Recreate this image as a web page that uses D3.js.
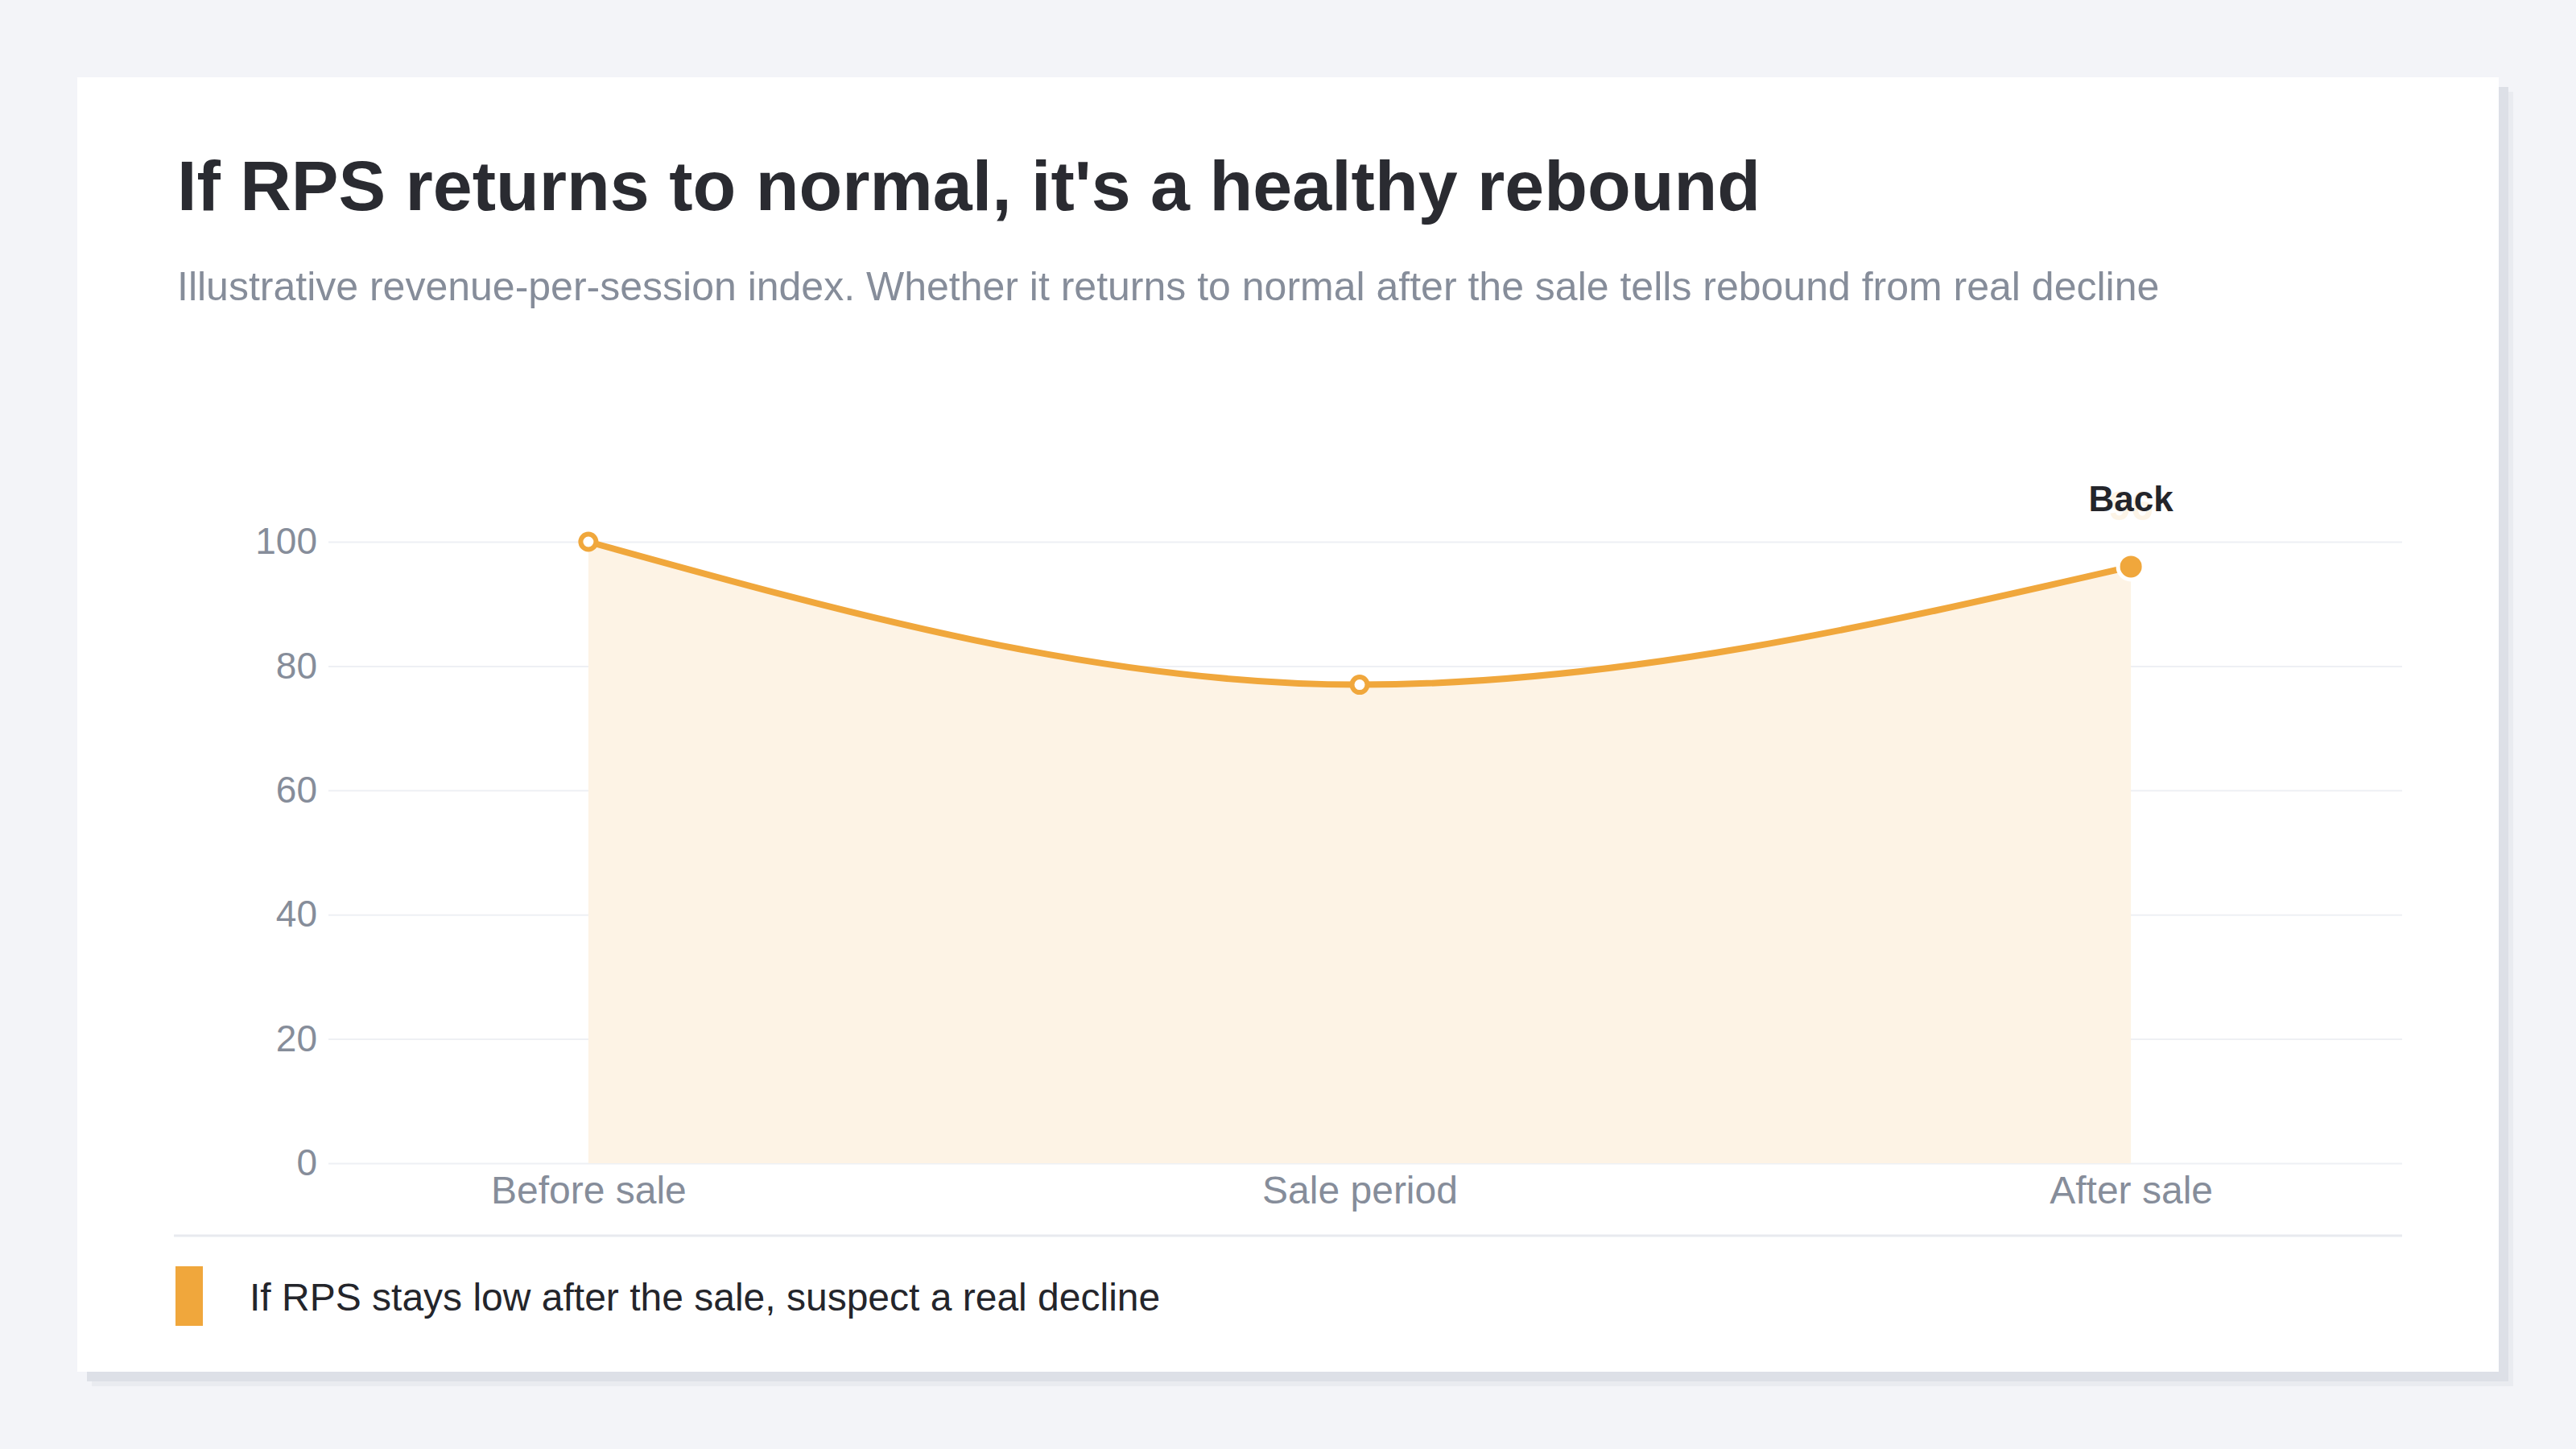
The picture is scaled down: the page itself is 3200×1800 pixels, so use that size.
<!DOCTYPE html>
<html>
<head>
<meta charset="utf-8">
<script src="https://cdn.jsdelivr.net/npm/d3@7"></script>
<style>
  body { margin: 0; background: #f3f4f8; }
  svg { display: block; }
  text { font-family: "Liberation Sans", Arial, Helvetica, sans-serif; }
</style>
</head>
<body>
<svg width="3200" height="1800"></svg>
<script>
// data
var categories = ["Before sale", "Sale period", "After sale"];
var rpsIndex = [100, 77, 96];
var yTicks = [0, 20, 40, 60, 80, 100];
var endLabel = "Back";

var title = "If RPS returns to normal, it's a healthy rebound";
var subtitle = "Illustrative revenue-per-session index. Whether it returns to normal after the sale tells rebound from real decline";
var note = "If RPS stays low after the sale, suspect a real decline";

function main() {
    var svg = d3.select("svg"),
        card = {x: 96, y: 96, w: 3008, h: 1608},
        margin = {top: 673, right: 216, bottom: 355, left: 408},
        width = 2984 - margin.left,
        height = 1445 - margin.top;

    var orange = "#f0a73c";

    // card + shadow
    svg.append("rect")
        .attr("x", card.x + 18).attr("y", card.y + 18)
        .attr("width", card.w).attr("height", card.h)
        .attr("fill", "#e9ebf0");
    svg.append("rect")
        .attr("x", card.x + 12).attr("y", card.y + 12)
        .attr("width", card.w).attr("height", card.h)
        .attr("fill", "#dde0e7");
    svg.append("rect")
        .attr("x", card.x).attr("y", card.y)
        .attr("width", card.w).attr("height", card.h)
        .attr("fill", "#ffffff");

    svg.append("text")
        .attr("x", 220).attr("y", 261)
        .attr("font-size", 88).attr("font-weight", 700)
        .attr("fill", "#2a2b31")
        .text(title);

    svg.append("text")
        .attr("x", 220).attr("y", 373)
        .attr("font-size", 50)
        .attr("fill", "#868d9a")
        .text(subtitle);

    var g = svg.append("g")
        .attr("transform", `translate(${margin.left},${margin.top})`);

    var x = d3.scalePoint()
        .domain(categories)
        .range([0, width - 14])
        .padding(0.337);

    var y = d3.scaleLinear()
        .domain([0, 100])
        .range([height, 0]);

    // gridlines + y labels
    var yAxis = g.append("g")
        .call(d3.axisLeft(y).tickValues(yTicks).tickSize(-width).tickPadding(14));
    yAxis.select(".domain").remove();
    yAxis.selectAll("line").attr("stroke", "#eef0f4").attr("stroke-width", 2);
    yAxis.selectAll("text")
        .attr("font-size", 46).attr("fill", "#868d9a")
        .attr("font-family", "Liberation Sans, Arial, sans-serif");

    // area + line
    var area = d3.area()
        .x((d, i) => x(categories[i]))
        .y0(y(0))
        .y1(d => y(d))
        .curve(d3.curveMonotoneX);
    var line = d3.line()
        .x((d, i) => x(categories[i]))
        .y(d => y(d))
        .curve(d3.curveMonotoneX);

    g.append("path")
        .datum(rpsIndex)
        .attr("d", area)
        .attr("fill", "#fdf3e5");

    g.append("path")
        .datum(rpsIndex)
        .attr("d", line)
        .attr("fill", "none")
        .attr("stroke", orange)
        .attr("stroke-width", 8);

    // points
    var last = rpsIndex.length - 1;
    g.selectAll("circle.pt")
        .data(rpsIndex.slice(0, last))
        .join("circle")
        .attr("class", "pt")
        .attr("cx", (d, i) => x(categories[i]))
        .attr("cy", d => y(d))
        .attr("r", 9.5)
        .attr("fill", "#fff")
        .attr("stroke", orange)
        .attr("stroke-width", 6);

    g.append("circle")
        .attr("cx", x(categories[last]))
        .attr("cy", y(rpsIndex[last]))
        .attr("r", 16)
        .attr("fill", orange)
        .attr("stroke", "#fff")
        .attr("stroke-width", 5);

    // faint value behind the end label
    g.append("text")
        .attr("x", x(categories[last])).attr("y", y(rpsIndex[last]) - 58)
        .attr("text-anchor", "middle")
        .attr("font-size", 50).attr("font-weight", 700)
        .attr("fill", orange).attr("opacity", 0.12)
        .text(rpsIndex[last]);

    g.append("text")
        .attr("x", x(categories[last])).attr("y", y(rpsIndex[last]) - 69)
        .attr("text-anchor", "middle")
        .attr("font-size", 44).attr("font-weight", 700)
        .attr("fill", "#24252b")
        .text(endLabel);

    // x labels
    var xAxis = g.append("g")
        .attr("transform", `translate(0,${height})`)
        .call(d3.axisBottom(x).tickSize(0).tickPadding(16));
    xAxis.select(".domain").remove();
    xAxis.selectAll("text")
        .attr("font-size", 48).attr("fill", "#868d9a")
        .attr("font-family", "Liberation Sans, Arial, sans-serif");

    // separator + legend note
    svg.append("line")
        .attr("x1", 216).attr("x2", 2984)
        .attr("y1", 1535).attr("y2", 1535)
        .attr("stroke", "#e8eaef").attr("stroke-width", 3);

    svg.append("rect")
        .attr("x", 218).attr("y", 1573)
        .attr("width", 34).attr("height", 74)
        .attr("fill", orange);

    svg.append("text")
        .attr("x", 310).attr("y", 1628)
        .attr("font-size", 48)
        .attr("fill", "#24252b")
        .text(note);
}
main();
</script>
</body>
</html>
